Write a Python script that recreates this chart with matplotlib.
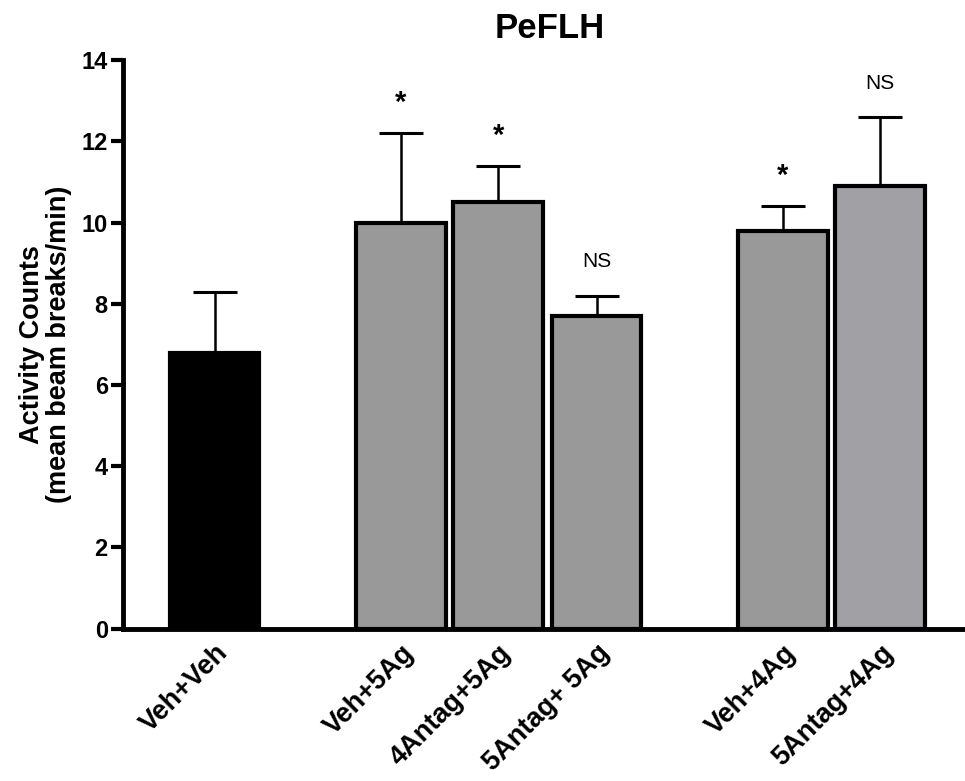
import matplotlib
matplotlib.use('Agg')
import matplotlib.pyplot as plt
import numpy as np

plt.rcParams['font.family'] = ['Liberation Sans', 'DejaVu Sans']

labels = ['Veh+Veh', 'Veh+5Ag', '4Antag+5Ag', '5Antag+ 5Ag', 'Veh+4Ag', '5Antag+4Ag']
means = [6.8, 10.0, 10.5, 7.7, 9.8, 10.9]
sems = [1.5, 2.2, 0.9, 0.5, 0.6, 1.7]
marks = ['', '*', '*', 'NS', '*', 'NS']
colors = ['#000000', '#999999', '#999999', '#999999', '#999999', '#a1a1a5']
pos = [0, 1.91, 2.91, 3.92, 5.83, 6.83]

fig = plt.figure(figsize=(9.65, 7.81), dpi=100)
ax = fig.add_axes([0.1275, 0.195, 0.8725, 0.728])

ax.bar(pos, means, width=0.92, color=colors, edgecolor='black', linewidth=3, zorder=3)
ax.errorbar(pos, means, yerr=[np.zeros(len(sems)), sems], fmt='none', ecolor='black',
            elinewidth=1.8, capsize=16, capthick=2.2, zorder=2)

# significance marks above the error caps
for x, m, s, t in zip(pos, means, sems, marks):
    if t == '*':
        ax.text(x, m + s + 0.4, t, ha='center', va='bottom', fontsize=21, fontweight='bold')
    elif t:
        ax.text(x, m + s + 0.6, t, ha='center', va='bottom', fontsize=15)

ax.set_xlim(-0.94, 7.7)
ax.set_ylim(0, 14)
ax.set_yticks(range(0, 15, 2))
ax.set_xticks(pos)
ax.set_xticklabels(labels, rotation=45, ha='right', rotation_mode='anchor',
                   fontsize=19.5, fontweight='bold')
ax.tick_params(axis='x', length=0, pad=8)
ax.tick_params(axis='y', length=9, width=3, labelsize=17, direction='out', pad=2)
for lb in ax.get_yticklabels():
    lb.set_fontweight('bold')

ax.spines['top'].set_visible(False)
ax.spines['right'].set_visible(False)
ax.spines['left'].set_linewidth(3.5)
ax.spines['bottom'].set_linewidth(3.5)

ax.set_ylabel('Activity Counts\n(mean beam breaks/min)', fontsize=19.5, fontweight='bold',
              labelpad=7, linespacing=1.05)
fig.text(0.57, 0.963, 'PeFLH', ha='center', va='center', fontsize=25, fontweight='bold')

fig.savefig('out.png', dpi=100)
